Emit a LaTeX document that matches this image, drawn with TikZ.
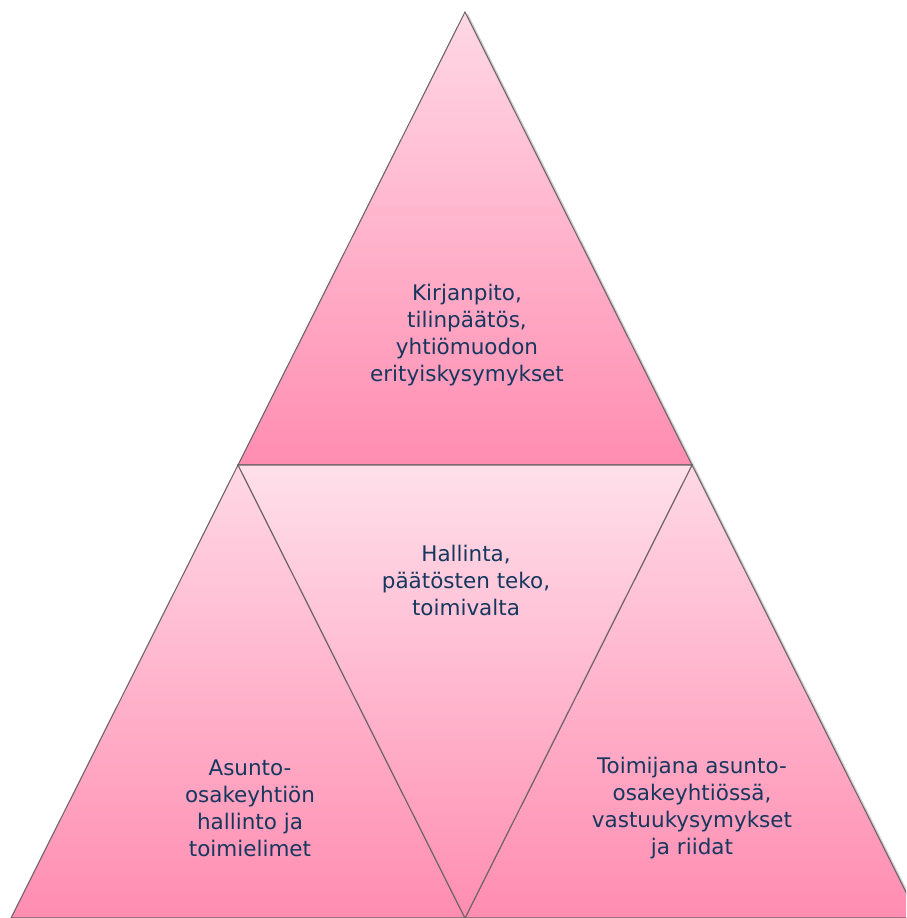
\documentclass[tikz,border=0pt]{standalone}
\usepackage{fontspec}
\setmainfont{DejaVu Sans}
\definecolor{lightpk}{HTML}{FFD8E5}
\definecolor{darkpk}{HTML}{FF8DB2}
\definecolor{txt}{HTML}{17375E}
\definecolor{edge}{HTML}{6E6468}
\tikzset{
  tri/.style={top color=lightpk, bottom color=darkpk, draw=edge, line width=1.1pt, line join=miter},
  shadowline/.style={draw=black, opacity=0.18, line width=2pt},
  lbl/.style={text=txt, align=center, font=\fontsize{21.5}{27}\selectfont, inner sep=0pt}
}
\begin{document}
\begin{tikzpicture}[x=1pt,y=-1pt]
\useasboundingbox (0,0) rectangle (906,918);
\clip (0,0) rectangle (906,918);
% coordinates
\coordinate (A) at (465,12);
\coordinate (L) at (238,465);
\coordinate (R) at (692,465);
\coordinate (BL) at (11,918);
\coordinate (BM) at (465,918);
\coordinate (BR) at (919,918);
% shadows
\draw[shadowline] ([shift={(2,2)}]A) -- ([shift={(2,2)}]R);
\draw[shadowline] ([shift={(2,2)}]R) -- ([shift={(2,2)}]BR);
% triangles
\shade[tri] (A) -- (R) -- (L) -- cycle;
\shade[tri] (L) -- (BM) -- (BL) -- cycle;
\shade[tri] (R) -- (BR) -- (BM) -- cycle;
\shade[tri, top color=lightpk!80!white] (L) -- (R) -- (BM) -- cycle;
% labels
\node[lbl] (top) at (467,335) {Kirjanpito,\\tilinpäätös,\\yhtiömuodon\\erityiskysymykset};
\node[lbl] (mid) at (466,580) {Hallinta,\\päätösten teko,\\toimivalta};
\node[lbl] (left) at (250,808) {Asunto-\\osakeyhtiön\\hallinto ja\\toimielimet};
\node[lbl] (right) at (692,808) {Toimijana asunto-\\osakeyhtiössä,\\vastuukysymykset\\ja riidat};
\end{tikzpicture}
\end{document}
